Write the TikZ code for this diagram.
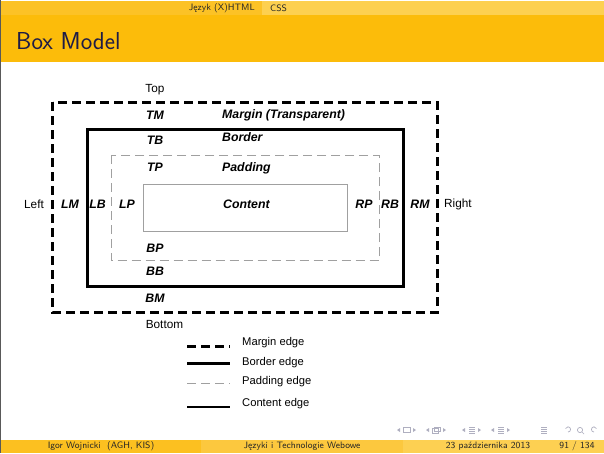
\documentclass[tikz,border=0pt]{standalone}
\usepackage{fontspec}
\newfontfamily\hv{Liberation Sans}
\definecolor{hdrL}{RGB}{252,194,38}
\definecolor{hdrR}{RGB}{253,208,80}
\definecolor{titlebar}{RGB}{252,188,10}
\definecolor{ftL}{RGB}{252,192,32}
\definecolor{ftM}{RGB}{252,200,62}
\definecolor{ftR}{RGB}{253,208,82}
\definecolor{titletext}{RGB}{30,28,70}
\definecolor{navgray}{RGB}{175,175,192}
\definecolor{padgray}{RGB}{160,160,160}
\begin{document}
\begin{tikzpicture}[x=1pt,y=-1pt,
  lbl/.style={font=\hv\bfseries\itshape\fontsize{12.3}{13}\selectfont, inner sep=0pt},
  plain/.style={font=\hv\fontsize{11.8}{12}\selectfont, inner sep=0pt},
  legtext/.style={font=\hv\fontsize{11.2}{12}\selectfont, inner sep=0pt, anchor=west},
  marginedge/.style={line width=3pt, dash pattern=on 9pt off 5pt},
  borderedge/.style={line width=3pt},
  paddingedge/.style={line width=1pt, padgray, dash pattern=on 9pt off 5pt},
  contentedge/.style={line width=1pt, padgray},
  legcontent/.style={line width=1.2pt, black},
  beamertext/.style={font=\sffamily\fontsize{9.3}{10}\selectfont, inner sep=0pt, text=black!85},
  nav/.style={navgray, line width=0.7pt}
]
\useasboundingbox (0,0) rectangle (604,453);
\fill[white] (0,0) rectangle (604,453);
% headline
\fill[hdrL] (0,1) rectangle (262,15);
\fill[hdrR] (262,1) rectangle (604,15);
\node[beamertext, anchor=east] (sec) at (255,8.5) {Język (X)HTML};
\node[beamertext, anchor=west] (subsec) at (270,8.5) {CSS};
% title bar
\fill[titlebar] (0,15) rectangle (604,62);
\node[font=\sffamily\fontsize{24.5}{26}\selectfont, text=titletext, anchor=base west, inner sep=0pt] (title) at (16,49.5) {Box Model};
% footer
\fill[ftL] (0,440) rectangle (201,453);
\fill[ftM] (201,440) rectangle (403,453);
\fill[ftR] (403,440) rectangle (604,453);
\node[beamertext] (author) at (101,446.5) {Igor Wojnicki\ \ (AGH, KIS)};
\node[beamertext] (talk) at (302,446.5) {Języki i Technologie Webowe};
\node[beamertext] (date) at (488,446.5) {23 października 2013};
\node[beamertext] (page) at (577,446.5) {91 / 134};
% left dark edge
\fill[black!65] (0,0) rectangle (1.2,453);
% navigation symbols
\begin{scope}[nav]
  \fill (397,430) -- (400,428) -- (400,432) -- cycle;
  \draw (403,427.5) rectangle (410,432.5);
  \fill (416,430) -- (413,428) -- (413,432) -- cycle;
  \fill (426,430) -- (429,428) -- (429,432) -- cycle;
  \draw (432,428.5) rectangle (438,433) (434,427) rectangle (440,431.5);
  \fill (446,430) -- (443,428) -- (443,432) -- cycle;
  \fill (462,430) -- (465,428) -- (465,432) -- cycle;
  \draw (469,427.5) -- (475,427.5) (469,429.5) -- (475,429.5) (469,431.5) -- (475,431.5) (469,433.5) -- (475,433.5);
  \fill (481,430) -- (478,428) -- (478,432) -- cycle;
  \fill (491,430) -- (494,428) -- (494,432) -- cycle;
  \draw (498,427.5) -- (504,427.5) (498,429.5) -- (504,429.5) (498,431.5) -- (504,431.5) (498,433.5) -- (504,433.5);
  \fill (510,430) -- (507,428) -- (507,432) -- cycle;
  \draw (541,427.5) -- (547,427.5) (541,429.5) -- (547,429.5) (541,431.5) -- (547,431.5) (541,433.5) -- (547,433.5);
  \draw (568,432) arc[start angle=-90, end angle=160, radius=2.6pt];
  \draw (580,430) circle[radius=2.6pt] (582,432) -- (584,434);
  \draw (594,432) arc[start angle=-90, end angle=-340, radius=2.6pt];
\end{scope}
% box model
\draw[marginedge] (52.5,102) rectangle (437,312.5);
\draw[borderedge] (87,129) rectangle (403,286.5);
\draw[paddingedge] (111,155) rectangle (379,260.5);
\draw[contentedge] (143,184) rectangle (347.5,231.5);
% labels
\node[plain] (top) at (155,90) {Top};
\node[lbl] (tm) at (155,115) {TM};
\node[lbl, anchor=west] (mt) at (222,115) {Margin (Transparent)};
\node[lbl] (tb) at (155,140) {TB};
\node[lbl, anchor=west] (bt) at (222,137.5) {Border};
\node[lbl] (tp) at (155,167.5) {TP};
\node[lbl, anchor=west] (pt) at (222,168) {Padding};
\node[lbl, anchor=west] (ct) at (223,204) {Content};
\node[plain] (left) at (34,204) {Left};
\node[lbl] (lm) at (70,204) {LM};
\node[lbl] (lb) at (97.5,204) {LB};
\node[lbl] (lp) at (127,204) {LP};
\node[lbl] (rp) at (364,204) {RP};
\node[lbl] (rb) at (390,204) {RB};
\node[lbl] (rm) at (420,204) {RM};
\node[plain, anchor=west] (right) at (444,204) {Right};
\node[lbl] (bp) at (155,248) {BP};
\node[lbl] (bb) at (155,271) {BB};
\node[lbl] (bm) at (155,298.5) {BM};
\node[plain] (bottom) at (164.5,324) {Bottom};
% legend
\coordinate (l1a) at (187,346); \coordinate (l1b) at (230,346);
\coordinate (l2a) at (187,363.5); \coordinate (l2b) at (230,363.5);
\coordinate (l3a) at (187,383); \coordinate (l3b) at (230,383);
\coordinate (l4a) at (187,407); \coordinate (l4b) at (230,407);
\draw[marginedge] (l1a) -- (l1b);
\draw[borderedge] (l2a) -- (l2b);
\draw[paddingedge] (l3a) -- (l3b);
\draw[legcontent] (l4a) -- (l4b);
\node[legtext] (le1) at (242,343) {Margin edge};
\node[legtext] (le2) at (242,363) {Border edge};
\node[legtext] (le3) at (242,382) {Padding edge};
\node[legtext] (le4) at (242,404) {Content edge};
\end{tikzpicture}
\end{document}
